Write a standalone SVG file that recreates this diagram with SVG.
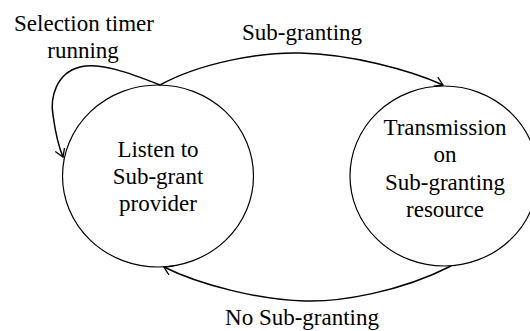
<svg xmlns="http://www.w3.org/2000/svg" width="530" height="331" viewBox="0 0 530 331">
<style>
.st{fill:#fff;stroke:#000;stroke-width:1.2}
.cn{fill:none;stroke:#000;stroke-width:1.5}
.t{font-family:'Liberation Serif','DejaVu Serif',serif;font-size:23px;fill:#000;text-anchor:middle}
</style>
<defs>
<marker id="ah" markerUnits="userSpaceOnUse" markerWidth="14" markerHeight="14" refX="9" refY="5" orient="auto">
<path d="M1,0 L9,5 L1,10" fill="none" stroke="#000" stroke-width="1.3"/>
</marker>
</defs>
<rect width="530" height="331" fill="#fff"/>
<g id="listen">
<ellipse class="st" cx="158" cy="176" rx="95.5" ry="91"/>
<text class="t" font-family="Liberation Serif" x="158" y="157">Listen to</text>
<text class="t" font-family="Liberation Serif" x="158" y="184">Sub-grant</text>
<text class="t" font-family="Liberation Serif" x="158" y="211">provider</text>
</g>
<g id="transmission">
<ellipse class="st" cx="444" cy="176" rx="94" ry="90"/>
<text class="t" font-family="Liberation Serif" x="445" y="135">Transmission</text>
<text class="t" font-family="Liberation Serif" x="445" y="162">on</text>
<text class="t" font-family="Liberation Serif" x="445" y="190">Sub-granting</text>
<text class="t" font-family="Liberation Serif" x="445" y="217">resource</text>
</g>
<g id="connectors">
<path class="cn" d="M160,85 C200,63 260,52 300,53 C350,54 410,70 443,85" marker-end="url(#ah)"/>
<path class="cn" d="M451,266 C400,292 340,302 305,301 C260,300 200,285 164,267" marker-end="url(#ah)"/>
<path class="cn" d="M160,85 C130,73 100,62 80,67 C56,73 50,98 53,115 C55,130 58,145 63,157" marker-end="url(#ah)"/>
<text class="t" font-family="Liberation Serif" x="84" y="31">Selection timer</text>
<text class="t" font-family="Liberation Serif" x="83" y="58">running</text>
<text class="t" font-family="Liberation Serif" x="302" y="40">Sub-granting</text>
<text class="t" font-family="Liberation Serif" x="302" y="325">No Sub-granting</text>
</g>
</svg>
